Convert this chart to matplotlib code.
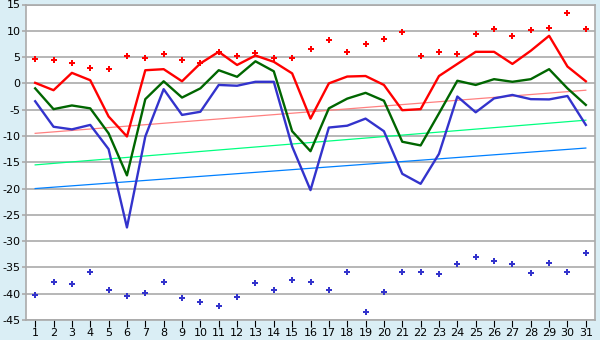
import matplotlib
matplotlib.use("Agg")
import matplotlib.pyplot as plt
import numpy as np

plt.rcParams['axes.unicode_minus'] = False
plt.rcParams['font.family'] = ['DejaVu Sans']

days = list(range(1, 32))

max_line = [0.1, -1.3, 2.0, 0.6, -6.3, -10.1, 2.5, 2.7, 0.4, 3.8,
            6.0, 3.5, 5.3, 4.1, 1.9, -6.7, 0.0, 1.3, 1.4, -0.3,
            -5.1, -4.9, 1.4, 3.7, 6.0, 6.0, 3.7, 6.2, 9.05, 3.2, 0.4]
mean_line = [-0.95, -4.9, -4.2, -4.75, -9.5, -17.5, -3.0, 0.4, -2.7, -0.95,
             2.5, 1.25, 4.2, 2.3, -9.1, -12.9, -4.75, -2.9, -1.8, -3.3,
             -11.1, -11.8, -5.7, 0.5, -0.3, 0.8, 0.3, 0.8, 2.7, -0.95, -4.1]
min_line = [-3.4, -8.25, -8.75, -7.9, -12.5, -27.4, -10.1, -1.1, -6.0, -5.4,
            -0.3, -0.45, 0.3, 0.3, -12.0, -20.3, -8.4, -8.05, -6.7, -9.1,
            -17.2, -19.1, -13.4, -2.5, -5.5, -2.85, -2.2, -3.0, -3.05, -2.4, -7.9]
max_record = [4.6, 4.4, 3.9, 2.9, 2.7, 5.3, 4.9, 5.6, 4.4, 3.9,
              6.0, 5.3, 5.8, 4.9, 4.75, 6.5, 8.2, 5.9, 7.4, 8.4,
              9.7, 5.3, 5.9, 5.6, 9.3, 10.3, 9.1, 10.1, 10.5, 13.3, 10.4]
min_record = [-40.3, -37.8, -38.2, -35.9, -39.35, -40.5, -39.9, -37.8, -40.9, -41.6,
              -42.4, -40.7, -38.0, -39.35, -37.45, -37.8, -39.2, -35.9, -43.5, -39.7,
              -35.9, -35.9, -36.3, -34.4, -33.1, -33.8, -34.4, -36.1, -34.2, -35.9, -32.3]

trend_days = [1, 31]
trend_max = [-9.5, -1.3]
trend_mean = [-15.5, -7.0]
trend_min = [-20.0, -12.3]

yticks = list(range(-45, 16, 5))

fig = plt.figure(figsize=(6, 3.4), dpi=100)
fig.patch.set_facecolor('#daeef5')
ax = fig.add_axes([26/600, 1-320/340, (595-26)/600, (320-4.5)/340])
ax.set_facecolor('white')

ax.set_xlim(0.5, 31.5)
ax.set_ylim(-45, 15)
ax.set_yticks(yticks)
ax.set_xticks(days)
ax.grid(axis='y', color='#aaaaaa', linewidth=1.2)
ax.set_axisbelow(True)

ax.plot(trend_days, trend_max, color='#ff8080', linewidth=0.9)
ax.plot(trend_days, trend_mean, color='#00ff80', linewidth=0.9)
ax.plot(trend_days, trend_min, color='#0080ff', linewidth=0.9)

ax.plot(days, max_line, color='#ff0000', linewidth=1.7)
ax.plot(days, mean_line, color='#006600', linewidth=1.7)
ax.plot(days, min_line, color='#3333cc', linewidth=1.7)

ax.plot(days, max_record, linestyle='none', marker='P', markersize=4.8,
        color='#ff0000', markeredgewidth=0)
ax.plot(days, min_record, linestyle='none', marker='P', markersize=4.8,
        color='#3333cc', markeredgewidth=0)

for s in ['left', 'right', 'top', 'bottom']:
    ax.spines[s].set_color('#aaaaaa')
    ax.spines[s].set_linewidth(1.2)

ax.tick_params(axis='y', length=3, width=1.2, color='#aaaaaa', labelsize=8,
               pad=1, labelcolor='black')
ax.tick_params(axis='x', length=5, width=0.8, labelsize=8, pad=1, colors='black')

fig.savefig('out.png', dpi=100, facecolor=fig.get_facecolor())
